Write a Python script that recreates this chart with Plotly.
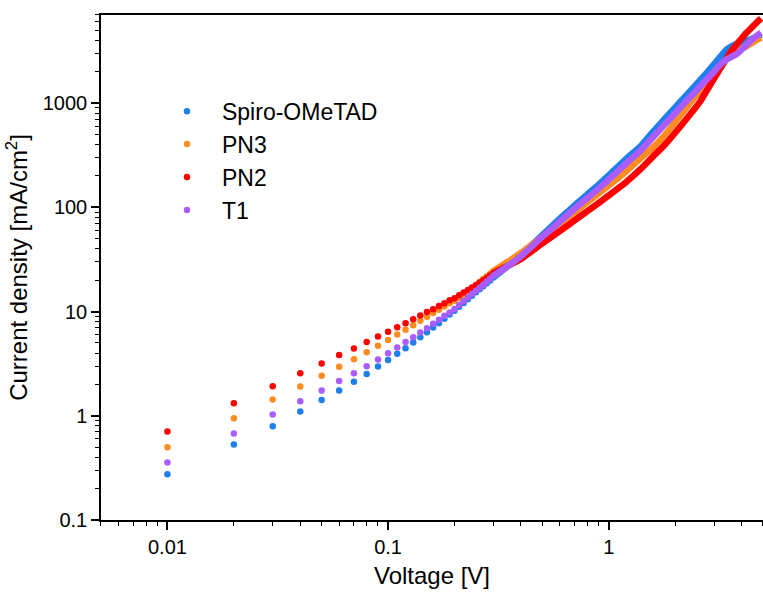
import plotly.graph_objects as go

# ---- data ----
series_names = ["Spiro-OMeTAD", "PN3", "PN2", "T1"]
series_colors = ["#1f7fec", "#ff8c1e", "#ff0000", "#ab5cff"]

# discrete low-voltage points (individual dots)
v_low = [0.01, 0.02, 0.03, 0.04, 0.05, 0.06, 0.07, 0.08, 0.09, 0.10,
         0.11, 0.12, 0.13, 0.14, 0.15, 0.16, 0.17, 0.18, 0.19, 0.20,
         0.21, 0.22, 0.23, 0.24, 0.25, 0.26, 0.27, 0.28, 0.29, 0.30]
spiro_low = [0.275, 0.53, 0.795, 1.10, 1.42, 1.75, 2.12, 2.51, 2.97, 3.42,
             3.94, 4.45, 5.05, 5.68, 6.34, 7.03, 7.74, 8.53, 9.38, 10.2,
             11.1, 12.1, 13.1, 14.2, 15.3, 16.4, 17.5, 18.7, 19.9, 21.2]
pn3_low = [0.50, 0.948, 1.43, 1.91, 2.42, 2.95, 3.49, 4.07, 4.70, 5.32,
           6.03, 6.69, 7.40, 8.16, 8.92, 9.66, 10.4, 11.2, 12.0, 12.7,
           13.5, 14.5, 15.6, 16.8, 18.0, 19.2, 20.5, 21.8, 23.1, 24.5]
pn2_low = [0.706, 1.32, 1.92, 2.56, 3.18, 3.82, 4.43, 5.09, 5.77, 6.40,
           7.08, 7.74, 8.45, 9.18, 9.90, 10.5, 11.3, 12.0, 12.8, 13.4,
           14.3, 15.2, 16.1, 17.0, 18.0, 19.0, 20.0, 21.0, 22.2, 23.4]
t1_low = [0.356, 0.676, 1.03, 1.38, 1.75, 2.15, 2.56, 2.99, 3.47, 3.99,
          4.52, 5.09, 5.68, 6.30, 6.93, 7.64, 8.34, 9.12, 9.80, 10.6,
          11.6, 12.6, 13.6, 14.7, 15.8, 16.9, 18.1, 19.3, 20.6, 22.0]

# dense higher-voltage region (points merge into a thick band)
v_high = [0.3, 0.35, 0.4, 0.5, 0.6, 0.7, 0.8, 0.9, 1.0, 1.2, 1.4,
          1.6, 1.8, 2.0, 2.2, 2.4, 2.6, 2.8, 3.0, 3.2, 3.4, 3.6, 3.8, 4.0,
          4.2, 4.4, 4.6, 4.8, 4.9]
spiro_high = [21.2, 27.5, 35, 54, 78, 104, 133, 165, 203, 292, 390,
              541, 711, 909, 1133, 1385, 1667, 1981, 2356, 2780, 3220, 3500,
              3700, 3850, 3950, 4100, 4250, 4450, 4550]
pn3_high = [24.5, 30.2, 36.5, 52, 70, 90, 112, 136, 162,
            222, 299, 382, 495, 658, 851, 1077, 1336, 1633, 1967, 2286, 2603,
            2950, 3155, 3339, 3500, 3700, 3950, 4150, 4250]
pn2_high = [23.4, 27.5, 32, 45, 59, 75, 92, 110, 130, 175,
            235, 313, 401, 519, 665, 834, 1042, 1350, 1716, 2149, 2630, 3180,
            3655, 4168, 4700, 5190, 5705, 6250, 6500]
t1_high = [22.0, 27.5, 34, 52, 73, 97, 123, 151, 184, 264,
           354, 481, 629, 799, 993, 1207, 1448, 1716, 2000, 2330, 2600, 2780,
           2950, 3250, 3600, 3950, 4300, 4600, 4750]

x_tick_vals = [0.01, 0.1, 1]
x_tick_text = ["0.01", "0.1", "1"]
y_tick_vals = [0.1, 1, 10, 100, 1000]
y_tick_text = ["0.1", "1", "10", "100", "1000"]

lows = [spiro_low, pn3_low, pn2_low, t1_low]
highs = [spiro_high, pn3_high, pn2_high, t1_high]

FONT = "Arial, Liberation Sans, sans-serif"

fig = go.Figure()
for name, color, yl, yh in zip(series_names, series_colors, lows, highs):
    fig.add_trace(go.Scatter(
        x=v_high, y=yh, mode="lines",
        line=dict(color=color, width=6.5, shape="spline", smoothing=0.6),
        showlegend=False, hoverinfo="skip", legendgroup=name))
    fig.add_trace(go.Scatter(
        x=v_low, y=yl, mode="markers", name=name, legendgroup=name,
        marker=dict(color=color, size=6.5, line=dict(width=0))))

axis_common = dict(
    type="log", showgrid=False, zeroline=False, showline=True,
    linecolor="black", linewidth=1.5, ticks="outside", ticklen=8,
    tickwidth=1.5, tickcolor="black",
    tickfont=dict(family=FONT, size=20, color="black"),
    minor=dict(ticks="outside", ticklen=4.5, tickwidth=1.2, tickcolor="black",
               dtick="D1", showgrid=False),
)

fig.update_layout(
    width=763, height=597,
    margin=dict(l=101, r=0, t=15, b=77),
    paper_bgcolor="white", plot_bgcolor="white",
    font=dict(family=FONT, color="black"),
    xaxis=dict(axis_common, range=[-2.301, 0.699], tickvals=x_tick_vals,
               ticktext=x_tick_text, mirror=True,
               title=dict(text="Voltage [V]", font=dict(family=FONT, size=24), standoff=10)),
    yaxis=dict(axis_common, range=[-1, 3.845], tickvals=y_tick_vals,
               ticktext=y_tick_text,
               title=dict(text="Current density [mA/cm<sup>2</sup>]",
                          font=dict(family=FONT, size=24), standoff=8)),
    legend=dict(x=0.077, y=0.852, xanchor="left", yanchor="top",
                bgcolor="rgba(0,0,0,0)", font=dict(family=FONT, size=23),
                itemwidth=60, tracegroupgap=0),
    showlegend=True,
)

fig.write_html("out.html")
